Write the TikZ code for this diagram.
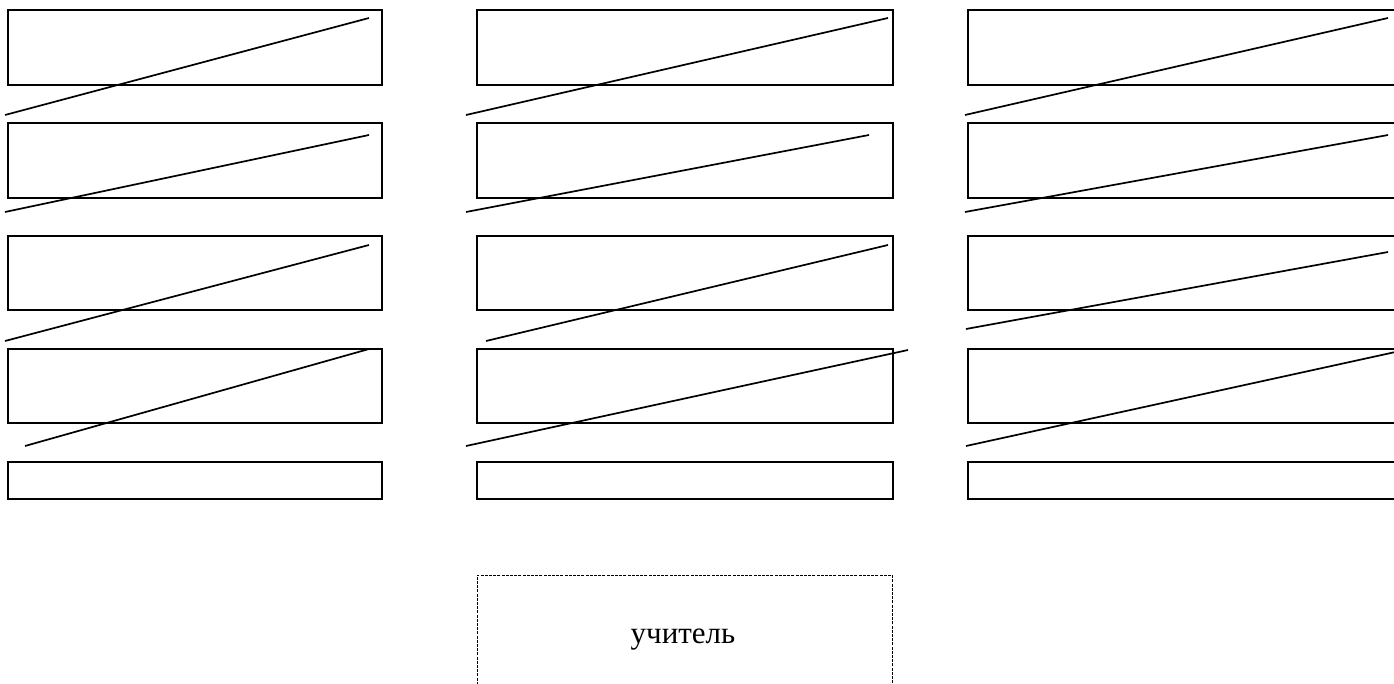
\documentclass[tikz,border=0pt]{standalone}
\usepackage{fontspec}
\setmainfont{Liberation Serif}
\begin{document}
\begin{tikzpicture}[x=1pt,y=-1pt,
  desk/.style={draw=black,line width=2pt,inner sep=0pt,minimum height=#1},
  deskL/.style={desk=#1,minimum width=374pt},
  deskM/.style={desk=#1,minimum width=416pt},
  deskR/.style={desk=#1,minimum width=452pt},
  slash/.style={draw=black,line width=1.7pt},
  teacherbox/.style={draw=black,line width=1pt,dash pattern=on 3pt off 1.2pt,inner sep=0pt,
     minimum width=415pt,minimum height=130pt}]
\useasboundingbox (0,0) rectangle (1394,684);
\clip (0,0) rectangle (1394,684);
% desks
\foreach \r/\y/\h in {1/47.5/75,2/160.5/75,3/273/74,4/386/74,5/480.5/37}{
  \node[deskL=\h pt] (L\r) at (195,\y) {};
  \node[deskM=\h pt] (M\r) at (685,\y) {};
  \node[deskR=\h pt] (R\r) at (1194,\y) {};
}
% teacher
\node[teacherbox] (T) at (684.5,640) {};
\node (Ttext) at (683,640) {\fontsize{31}{36}\selectfont учитель};
% slanted lines
\coordinate (a1) at (5,115);   \coordinate (b1) at (369,18);
\coordinate (a2) at (5,212);   \coordinate (b2) at (369,135);
\coordinate (a3) at (5,341);   \coordinate (b3) at (369,245);
\coordinate (a4) at (25,446);  \coordinate (b4) at (369,349);
\coordinate (c1) at (466,115); \coordinate (d1) at (888,18);
\coordinate (c2) at (466,212); \coordinate (d2) at (869,135);
\coordinate (c3) at (486,341); \coordinate (d3) at (888,245);
\coordinate (c4) at (466,446); \coordinate (d4) at (908,350);
\coordinate (e1) at (965,115); \coordinate (f1) at (1388,18);
\coordinate (e2) at (965,212); \coordinate (f2) at (1388,135);
\coordinate (e3) at (966,329); \coordinate (f3) at (1388,252);
\coordinate (e4) at (966,446); \coordinate (f4) at (1400,351);
\foreach \i in {1,2,3,4}{
  \draw[slash] (a\i) -- (b\i);
  \draw[slash] (c\i) -- (d\i);
  \draw[slash] (e\i) -- (f\i);
}
\end{tikzpicture}
\end{document}
